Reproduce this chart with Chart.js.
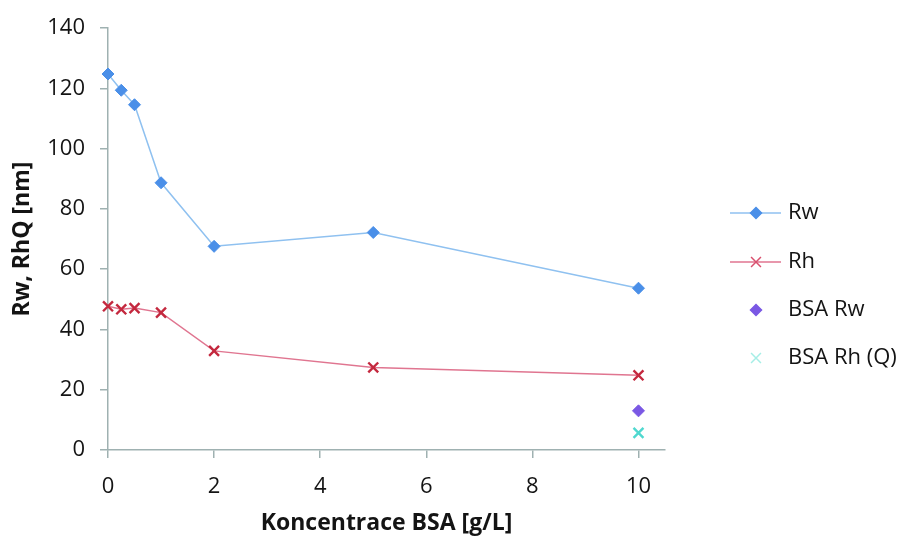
<!DOCTYPE html>
<html>
<head>
<meta charset="utf-8">
<script src="https://cdn.jsdelivr.net/npm/chart.js@4/dist/chart.umd.min.js"></script>
<style>
  html, body { margin: 0; padding: 0; background: #ffffff; }
  #wrap { width: 904px; height: 536px; }
</style>
</head>
<body>
<div id="wrap"><canvas id="c" width="904" height="536"></canvas></div>
<script>
// Concentrations of BSA (g/L) and measured radii (nm)
const concentrations = [0, 0.25, 0.5, 1, 2, 5, 10];
const rwValues = [124.8, 119.4, 114.6, 88.7, 67.6, 72.2, 53.7];
const rhValues = [47.7, 46.7, 47.1, 45.6, 32.9, 27.4, 24.8];
const bsaConcentration = [10];
const bsaRwValues = [13.0];
const bsaRhValues = [5.7];
const xTicks = [0, 2, 4, 6, 8, 10];
const yTicks = [0, 20, 40, 60, 80, 100, 120, 140];
const seriesLabels = ['Rw', 'Rh', 'BSA Rw', 'BSA Rh (Q)'];

const toPoints = (xs, ys) => xs.map((x, i) => ({ x: x, y: ys[i] }));

const axisColor = '#9fb1b1';
const textColor = '#141414';
const tickFont = { family: 'Open Sans', size: 22 };
const titleFont = { family: 'Open Sans', size: 23, weight: 'bold', lineHeight: 1.0 };

// Legend on the right: line sample with marker, then the series label
const sideLegend = {
  id: 'sideLegend',
  afterDraw(chart) {
    const ctx = chart.ctx;
    const x0 = 730, x1 = 781, xm = 756, xt = 788;
    const rowY = [213, 262, 310, 358];
    const legendMarker = ['#4a8fe8', '#d9506e', '#7a58e4', '#a6eee6'];
    chart.data.datasets.forEach((ds, i) => {
      const y = rowY[i];
      ctx.save();
      if (ds.showLine) {
        ctx.strokeStyle = ds.borderColor;
        ctx.lineWidth = 1.5;
        ctx.beginPath();
        ctx.moveTo(x0, y);
        ctx.lineTo(x1, y);
        ctx.stroke();
      }
      ctx.fillStyle = legendMarker[i];
      ctx.strokeStyle = legendMarker[i];
      ctx.lineWidth = 1.5;
      const r = ds.pointStyle === 'crossRot' ? 7 : 5.5;
      Chart.helpers.drawPoint(ctx, { pointStyle: ds.pointStyle, radius: r, borderWidth: 1.5, rotation: 0 }, xm, y);
      ctx.fillStyle = textColor;
      ctx.font = '22px "Open Sans"';
      ctx.textBaseline = 'middle';
      ctx.textAlign = 'left';
      ctx.fillText(ds.label, xt, y);
      ctx.restore();
    });
  }
};

new Chart(document.getElementById('c'), {
  type: 'scatter',
  data: {
    datasets: [
      {
        label: seriesLabels[0],
        data: toPoints(concentrations, rwValues),
        showLine: true,
        clip: false,
        borderColor: '#8fc1f0',
        borderWidth: 1.5,
        pointStyle: 'rectRot',
        pointRadius: 6,
        pointBackgroundColor: '#4a8fe8',
        pointBorderColor: '#4a8fe8',
        pointBorderWidth: 1
      },
      {
        label: seriesLabels[1],
        data: toPoints(concentrations, rhValues),
        showLine: true,
        clip: false,
        borderColor: '#e07590',
        borderWidth: 1.5,
        pointStyle: 'crossRot',
        pointRadius: 7,
        pointBorderColor: '#c4283e',
        pointBackgroundColor: '#c4283e',
        pointBorderWidth: 2.4
      },
      {
        label: seriesLabels[2],
        data: toPoints(bsaConcentration, bsaRwValues),
        showLine: false,
        clip: false,
        pointStyle: 'rectRot',
        pointRadius: 6,
        pointBackgroundColor: '#7a58e4',
        pointBorderColor: '#7a58e4',
        pointBorderWidth: 1
      },
      {
        label: seriesLabels[3],
        data: toPoints(bsaConcentration, bsaRhValues),
        showLine: false,
        clip: false,
        pointStyle: 'crossRot',
        pointRadius: 7,
        pointBorderColor: '#4fd8cf',
        pointBackgroundColor: '#4fd8cf',
        pointBorderWidth: 2.4
      }
    ]
  },
  options: {
    responsive: false,
    animation: false,
    layout: { padding: { top: 27, right: 239, left: 0, bottom: 0 } },
    plugins: {
      legend: { display: false },
      tooltip: { enabled: false }
    },
    scales: {
      x: {
        type: 'linear',
        min: 0,
        max: 10.5,
        afterBuildTicks: (scale) => { scale.ticks = xTicks.map(v => ({ value: v })); },
        afterFit: (scale) => { scale.height = 86; },
        grid: { display: true, drawOnChartArea: false, drawTicks: true, tickLength: 8, color: axisColor, lineWidth: 1.5 },
        border: { display: true, color: axisColor, width: 1.5 },
        ticks: { color: textColor, font: tickFont, padding: 16, maxRotation: 0 },
        title: { display: true, text: 'Koncentrace BSA [g/L]', color: textColor, font: titleFont, padding: { top: 0, bottom: 1 } }
      },
      y: {
        type: 'linear',
        min: 0,
        max: 140,
        afterBuildTicks: (scale) => { scale.ticks = yTicks.map(v => ({ value: v })); },
        afterFit: (scale) => { scale.width = 108; },
        grid: { display: true, drawOnChartArea: false, drawTicks: true, tickLength: 8, color: axisColor, lineWidth: 1.5 },
        border: { display: true, color: axisColor, width: 1.5 },
        ticks: { color: textColor, font: tickFont, padding: 15 },
        title: { display: true, text: 'Rw, RhQ [nm]', color: textColor, font: titleFont, padding: { top: 11, bottom: 0 } }
      }
    }
  },
  plugins: [sideLegend]
});
</script>
</body>
</html>
